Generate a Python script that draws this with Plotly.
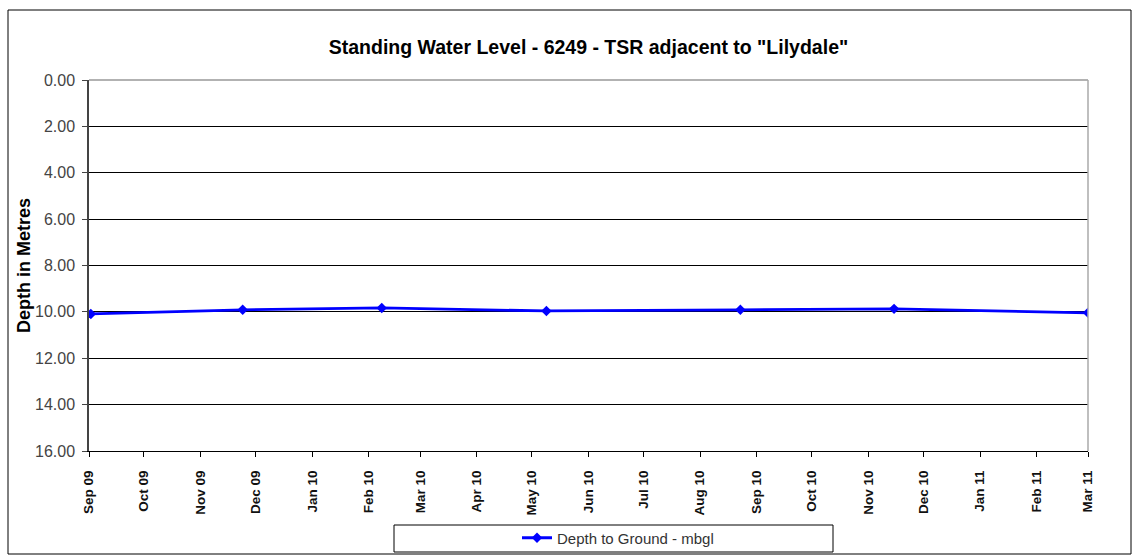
import plotly.graph_objects as go

# Data
dates = ["2009-09-02", "2009-11-24", "2010-02-08", "2010-05-09",
         "2010-08-23", "2010-11-15", "2011-03-01"]
depth = [10.09, 9.91, 9.83, 9.96, 9.91, 9.87, 10.04]

series_name = "Depth to Ground - mbgl"
title_text = 'Standing Water Level - 6249 - TSR adjacent to "Lilydale"'
y_title = "Depth in Metres"
x_range = ["2009-09-01", "2011-03-01"]
y_range = [16, 0]

FONT = "Arial, Liberation Sans, sans-serif"

fig = go.Figure()
fig.add_trace(go.Scatter(
    x=dates, y=depth, mode="lines+markers", name=series_name,
    line=dict(color="#0000FF", width=2.8),
    marker=dict(symbol="diamond", size=8, color="#0000FF"),
))

L, R, T, B = 89, 45, 80, 104
W, H = 1133, 555
pw, ph = W - L - R, H - T - B

def px_x(x):
    return (x - L) / pw

def px_y(y):
    return (H - B - y) / ph

fig.update_layout(
    width=W, height=H,
    margin=dict(l=L, r=R, t=T, b=B, pad=0),
    paper_bgcolor="white", plot_bgcolor="white",
    font=dict(family=FONT, color="#222"),
    title=dict(text=title_text, x=0.5, xref="paper", y=1 - 47 / H,
               yref="container", yanchor="middle", xanchor="center",
               font=dict(size=19.5, color="black", weight="bold")),
    showlegend=True,
    legend=dict(xref="paper", yref="container",
                x=px_x(517), y=1 - 538 / H, xanchor="left", yanchor="middle",
                bgcolor="rgba(0,0,0,0)", borderwidth=0,
                font=dict(size=15, color="#333")),
    xaxis=dict(type="date", range=x_range, dtick="M1", tick0="2009-09-01",
               tickformat="%b %y", tickangle=-90, showgrid=False,
               showline=True, linecolor="black", linewidth=1,
               ticks="outside", ticklen=5, tickcolor="black",
               ticklabelstandoff=8, automargin=False,
               tickfont=dict(size=13.5, color="#111", weight="bold"),
               zeroline=False),
    yaxis=dict(range=y_range, dtick=2, tick0=0, tickformat=".2f",
               showgrid=True, gridcolor="black", gridwidth=1,
               showline=True, linecolor="#444", linewidth=1.5,
               ticks="outside", ticklen=5, tickcolor="#444",
               ticklabelstandoff=4, automargin=False,
               tickfont=dict(size=16, color="#444"),
               title=dict(text=y_title, standoff=0,
                          font=dict(size=18, color="black", weight="bold")),
               zeroline=False),
    shapes=[
        # top plot border (grey)
        dict(type="line", xref="paper", yref="paper", x0=0, x1=1, y0=1, y1=1,
             line=dict(color="#999", width=1.5), layer="above"),
        # right plot border (grey)
        dict(type="line", xref="paper", yref="paper", x0=1, x1=1, y0=0, y1=1,
             line=dict(color="#aaa", width=1.5), layer="above"),
        # legend box
        dict(type="rect", xref="paper", yref="paper",
             x0=px_x(394), x1=px_x(833), y0=px_y(552), y1=px_y(525),
             line=dict(color="black", width=1), fillcolor="rgba(0,0,0,0)"),
        # outer chart border
        dict(type="rect", xref="paper", yref="paper",
             x0=px_x(8), x1=px_x(1131), y0=px_y(554), y1=px_y(10),
             line=dict(color="black", width=1), fillcolor="rgba(0,0,0,0)"),
    ],
)

fig.write_html("out.html", config={"displayModeBar": False},
               post_script="document.body.style.margin='0';")
